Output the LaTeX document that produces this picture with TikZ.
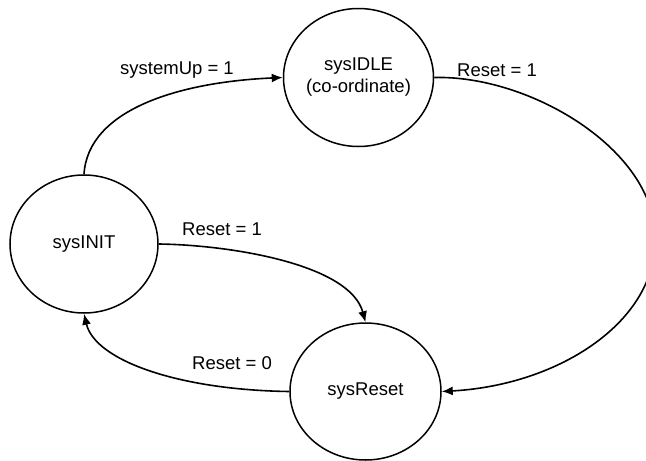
\documentclass[tikz,border=0pt]{standalone}
\usepackage{fontspec}
\setmainfont{Liberation Sans}
\usetikzlibrary{shapes.geometric,arrows.meta}

\begin{document}
\begin{tikzpicture}[x=1pt,y=-1pt,
  state/.style={draw, ellipse, line width=1.5pt, inner sep=0pt,
    minimum width=150pt, minimum height=138pt, align=center,
    font=\fontsize{18.5}{22}\selectfont},
  trans/.style={line width=1.6pt, -{Latex[length=11pt,width=9pt]}},
  lbl/.style={font=\fontsize{18.5}{22}\selectfont, inner sep=0pt}]
  \useasboundingbox (0,0) rectangle (646,461);

  % states
  \node[state] (idle)  at (358.5,77.5)  {sysIDLE\\(co-ordinate)};
  \node[state, minimum width=148pt] (init)  at (84,244)  {sysINIT};
  \node[state, minimum width=151pt, minimum height=137pt] (reset) at (365.5,391.5) {sysReset};

  % transitions
  \draw[trans] (init.north) .. controls +(4,-65) and +(-103,4.5) .. (idle.west);
  \draw[trans] (idle.east) .. controls +(96,-2.5) and (655,150) .. (655,237)
                           .. controls (658,320) and +(119,-6.5) .. (reset.east);
  \draw[trans] (init.east) .. controls +(72,1) and +(-15.5,-58) .. (reset.north);
  \draw[trans] (reset.west) .. controls +(-110,-1.5) and +(11,47) .. (init.south);

  % transition conditions
  \node[lbl] (l1) at (177,70)  {systemUp = 1};
  \node[lbl] (l2) at (497,70)  {Reset = 1};
  \node[lbl] (l3) at (222,229) {Reset = 1};
  \node[lbl] (l4) at (232,363) {Reset = 0};
\end{tikzpicture}
\end{document}
